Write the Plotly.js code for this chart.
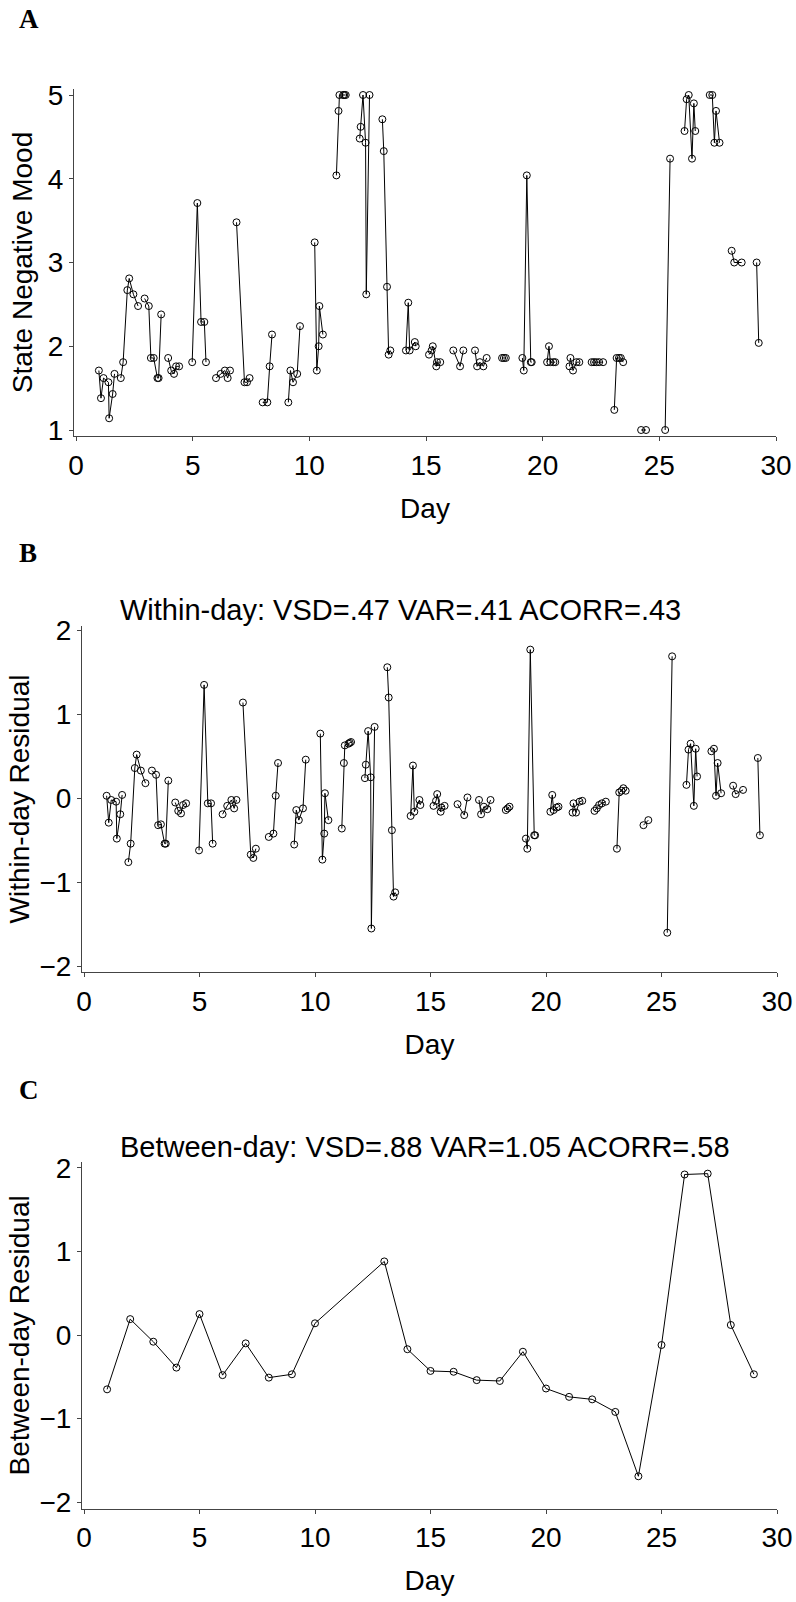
<!DOCTYPE html>
<html>
<head>
<meta charset="utf-8">
<script src="https://cdn.plot.ly/plotly-3.0.1.min.js"></script>
<style>html,body{margin:0;padding:0;background:#fff;}</style>
</head>
<body>
<div id="chart" style="width:796px;height:1602px;"></div>
<script>
// ---- Data ----
// Observation times (day + fraction of day), the day each belongs to,
// the state negative mood, and the within-day residual.
var obsDay = [
  1,1,1,1,1,1,1,
  2,2,2,2,2,2,
  3,3,3,3,3,3,3,
  4,4,4,4,4,
  5,5,5,5,5,
  6,6,6,6,6,
  7,7,7,7,
  8,8,8,8,
  9,9,9,9,9,
  10,10,10,10,10,
  11,11,11,11,11,11,
  12,12,12,12,12,12,
  13,13,13,13,13,
  14,14,14,14,14,
  15,15,15,15,15,15,
  16,16,16,
  17,17,17,17,17,
  18,18,18,
  19,19,19,19,19,
  20,20,20,20,20,
  21,21,21,21,21,
  22,22,22,22,22,
  23,23,23,23,23,
  24,24,
  25,25,
  26,26,26,26,26,26,
  27,27,27,27,27,
  28,28,28,
  29,29
];
var obsTime = [
  0.98,1.07,1.18,1.39,1.42,1.57,1.65,
  1.92,2.02,2.20,2.28,2.46,2.66,
  2.94,3.12,3.21,3.33,3.49,3.54,3.65,
  3.95,4.08,4.20,4.29,4.42,
  4.98,5.20,5.36,5.50,5.57,
  6.00,6.20,6.38,6.50,6.60,
  6.88,7.22,7.33,7.44,
  8.00,8.20,8.30,8.40,
  9.10,9.19,9.30,9.48,9.60,
  10.23,10.32,10.40,10.43,10.58,
  11.16,11.25,11.29,11.45,11.50,11.56,
  12.16,12.20,12.30,12.41,12.44,12.58,
  13.13,13.19,13.33,13.40,13.47,
  14.14,14.24,14.30,14.52,14.56,
  15.13,15.24,15.29,15.44,15.47,15.61,
  16.17,16.46,16.60,
  17.10,17.19,17.31,17.46,17.60,
  18.26,18.34,18.42,
  19.13,19.19,19.32,19.49,19.53,
  20.19,20.27,20.33,20.46,20.54,
  21.15,21.19,21.30,21.45,21.57,
  22.10,22.20,22.30,22.42,22.59,
  23.07,23.17,23.27,23.35,23.45,
  24.22,24.43,
  25.25,25.46,
  26.08,26.17,26.26,26.40,26.48,26.54,
  27.16,27.27,27.36,27.43,27.58,
  28.10,28.21,28.53,
  29.17,29.26
];
var stateMood = [
  1.71,1.38,1.62,1.57,1.14,1.43,1.67,
  1.62,1.81,2.67,2.81,2.62,2.48,
  2.57,2.48,1.86,1.86,1.62,1.62,2.38,
  1.86,1.71,1.67,1.76,1.76,
  1.81,3.71,2.29,2.29,1.81,
  1.62,1.67,1.71,1.62,1.71,
  3.48,1.57,1.57,1.62,
  1.33,1.33,1.76,2.14,
  1.33,1.71,1.57,1.67,2.24,
  3.24,1.71,2.00,2.48,2.14,
  4.04,4.81,5.00,5.00,5.00,5.00,
  4.48,4.62,5.00,4.43,2.62,5.00,
  4.71,4.33,2.71,1.90,1.95,
  1.95,2.52,1.95,2.05,2.00,
  1.90,1.95,2.00,1.76,1.81,1.81,
  1.95,1.76,1.95,
  1.95,1.76,1.81,1.76,1.86,
  1.86,1.86,1.86,
  1.86,1.71,4.04,1.81,1.81,
  1.81,2.00,1.81,1.81,1.81,
  1.76,1.86,1.71,1.81,1.81,
  1.81,1.81,1.81,1.81,1.81,
  1.24,1.86,1.86,1.86,1.81,
  1.00,1.00,
  1.00,4.24,
  4.57,4.95,5.00,4.24,4.90,4.57,
  5.00,5.00,4.43,4.81,4.43,
  3.14,3.00,3.00,
  3.00,2.04
];
var withinResidual = [
  0.03,-0.29,-0.02,-0.04,-0.48,-0.19,0.04,
  -0.76,-0.54,0.36,0.52,0.33,0.18,
  0.33,0.28,-0.32,-0.31,-0.54,-0.54,0.21,
  -0.05,-0.15,-0.18,-0.08,-0.06,
  -0.62,1.35,-0.06,-0.06,-0.54,
  -0.19,-0.09,-0.02,-0.12,-0.02,
  1.14,-0.67,-0.71,-0.60,
  -0.46,-0.42,0.03,0.42,
  -0.55,-0.14,-0.26,-0.12,0.46,
  0.77,-0.73,-0.42,0.06,-0.26,
  -0.36,0.42,0.63,0.65,0.66,0.67,
  0.24,0.40,0.80,0.25,-1.55,0.85,
  1.56,1.20,-0.38,-1.17,-1.12,
  -0.21,0.39,-0.16,-0.02,-0.08,
  -0.09,-0.03,0.05,-0.16,-0.11,-0.09,
  -0.07,-0.20,0.01,
  -0.02,-0.19,-0.10,-0.13,-0.02,
  -0.14,-0.12,-0.10,
  -0.48,-0.60,1.77,-0.44,-0.44,
  -0.16,0.04,-0.14,-0.11,-0.10,
  -0.17,-0.06,-0.17,-0.04,-0.03,
  -0.15,-0.12,-0.08,-0.06,-0.04,
  -0.60,0.07,0.09,0.12,0.09,
  -0.32,-0.26,
  -1.60,1.69,
  0.16,0.58,0.65,-0.09,0.59,0.26,
  0.56,0.59,0.03,0.42,0.06,
  0.15,0.05,0.10,
  0.48,-0.44
];
// Between-day residuals (one per day; days 11 and 12 absent)
var betweenDays = [1,2,3,4,5,6,7,8,9,10,13,14,15,16,17,18,19,20,21,22,23,24,25,26,27,28,29];
var betweenResidual = [-0.65,0.19,-0.08,-0.39,0.25,-0.48,-0.10,-0.51,-0.47,0.14,
  0.88,-0.17,-0.43,-0.44,-0.54,-0.55,-0.20,-0.64,-0.74,-0.77,-0.92,-1.69,-0.12,1.92,1.93,0.12,-0.47];

var panelLabels = ['A','B','C'];
var withinTitle = 'Within-day: VSD=.47 VAR=.41 ACORR=.43';
var betweenTitle = 'Between-day: VSD=.88 VAR=1.05 ACORR=.58';
var xTicks = [0,5,10,15,20,25,30];
var moodTicks = [1,2,3,4,5];
var residTicks = [-2,-1,0,1,2];

// ---- Build day-segmented series (lines connect only within a day) ----
function segmented(values) {
  var xs = [], ys = [];
  for (var i = 0; i < obsTime.length; i++) {
    if (i > 0 && obsDay[i] !== obsDay[i-1]) { xs.push(null); ys.push(null); }
    xs.push(obsTime[i]); ys.push(values[i]);
  }
  return {x: xs, y: ys};
}
var segMood = segmented(stateMood);
var segWithin = segmented(withinResidual);

var FONT = 'Liberation Sans, Arial, sans-serif';
var AX = '#444';
var H = 1602, W = 796;
function py(p) { return 1 - p / H; }
function px(p) { return p / W; }

var markerStyle = {symbol: 'circle-open', size: 7, color: '#000', line: {width: 1, color: '#000'}};
var lineStyle = {color: '#000', width: 1};

var traces = [
  {x: segMood.x, y: segMood.y, xaxis: 'x', yaxis: 'y', type: 'scatter', mode: 'lines+markers',
   line: lineStyle, marker: markerStyle, connectgaps: false, cliponaxis: false, hoverinfo: 'x+y'},
  {x: segWithin.x, y: segWithin.y, xaxis: 'x2', yaxis: 'y2', type: 'scatter', mode: 'lines+markers',
   line: lineStyle, marker: markerStyle, connectgaps: false, cliponaxis: false, hoverinfo: 'x+y'},
  {x: betweenDays, y: betweenResidual, xaxis: 'x3', yaxis: 'y3', type: 'scatter', mode: 'lines+markers',
   line: lineStyle, marker: markerStyle, cliponaxis: false, hoverinfo: 'x+y'}
];

function xAxis(domain, range, anchor) {
  return {
    domain: domain, range: range, anchor: anchor,
    tickvals: xTicks, ticks: 'outside', ticklen: 4, tickcolor: AX, tickwidth: 1,
    showline: true, linecolor: AX, linewidth: 1, showgrid: false, zeroline: false,
    tickfont: {family: FONT, size: 28, color: '#000'},
    title: {text: 'Day', font: {family: FONT, size: 28, color: '#000'}, standoff: 18},
    automargin: false, fixedrange: true
  };
}
function yAxis(domain, range, anchor, ticks, title, standoff) {
  return {
    domain: domain, range: range, anchor: anchor,
    tickvals: ticks, ticks: 'outside', ticklen: 4, tickcolor: AX, tickwidth: 1,
    showline: true, linecolor: AX, linewidth: 1, showgrid: false, zeroline: false,
    tickfont: {family: FONT, size: 28, color: '#000'},
    title: {text: title, font: {family: FONT, size: 28, color: '#000'}, standoff: standoff},
    automargin: false, fixedrange: true
  };
}

var layout = {
  width: W, height: H,
  margin: {l: 0, r: 0, t: 0, b: 0},
  paper_bgcolor: '#fff', plot_bgcolor: '#fff',
  showlegend: false,
  xaxis: xAxis([px(74), px(776)], [-2/23.333, 30], 'y'),
  yaxis: yAxis([py(436), py(89)], [1 - 6/83.75, 5 + 6/83.75], 'x', moodTicks, 'State Negative Mood', 7),
  xaxis2: xAxis([px(82), px(777)], [-2/23.1, 30], 'y2'),
  yaxis2: yAxis([py(972), py(626)], [-(972-798.3)/84, (798.3-626)/84], 'x2', residTicks, 'Within-day Residual', 1),
  xaxis3: xAxis([px(82), px(777)], [-2/23.1, 30], 'y3'),
  yaxis3: yAxis([py(1508.7), py(1162)], [-(1508.7-1335)/83.6, (1335-1162)/83.6], 'x3', residTicks, 'Between-day Residual', 1),
  annotations: [
    {text: '<b>' + panelLabels[0] + '</b>', xref: 'paper', yref: 'paper', x: px(17), y: py(19), xanchor: 'left', yanchor: 'middle',
     showarrow: false, font: {family: 'Liberation Serif, Times New Roman, serif', size: 27, color: '#000'}},
    {text: '<b>' + panelLabels[1] + '</b>', xref: 'paper', yref: 'paper', x: px(17), y: py(553), xanchor: 'left', yanchor: 'middle',
     showarrow: false, font: {family: 'Liberation Serif, Times New Roman, serif', size: 27, color: '#000'}},
    {text: '<b>' + panelLabels[2] + '</b>', xref: 'paper', yref: 'paper', x: px(17), y: py(1090), xanchor: 'left', yanchor: 'middle',
     showarrow: false, font: {family: 'Liberation Serif, Times New Roman, serif', size: 27, color: '#000'}},
    {text: withinTitle, xref: 'paper', yref: 'paper', x: px(118), y: py(610), xanchor: 'left', yanchor: 'middle',
     showarrow: false, font: {family: FONT, size: 29, color: '#000'}},
    {text: betweenTitle, xref: 'paper', yref: 'paper', x: px(118), y: py(1147), xanchor: 'left', yanchor: 'middle',
     showarrow: false, font: {family: FONT, size: 29, color: '#000'}}
  ]
};

Plotly.newPlot('chart', traces, layout, {staticPlot: true, displayModeBar: false});
</script>
</body>
</html>
